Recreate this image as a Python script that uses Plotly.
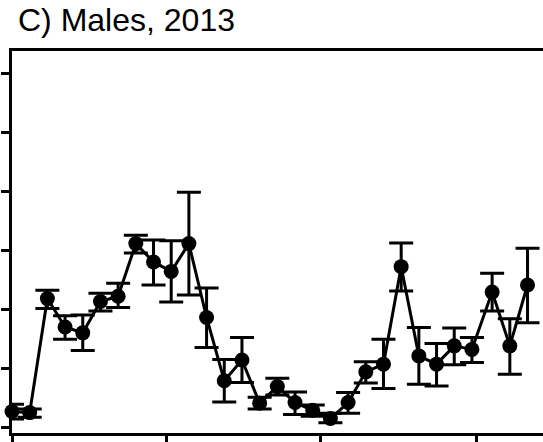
import plotly.graph_objects as go

# Weekly sampling dates (2013)
dates = ["2013-03-01", "2013-03-08", "2013-03-15", "2013-03-22", "2013-03-29",
         "2013-04-05", "2013-04-12", "2013-04-19", "2013-04-26", "2013-05-03",
         "2013-05-10", "2013-05-17", "2013-05-24", "2013-05-31", "2013-06-07",
         "2013-06-14", "2013-06-21", "2013-06-28", "2013-07-05", "2013-07-12",
         "2013-07-19", "2013-07-26", "2013-08-02", "2013-08-09", "2013-08-16",
         "2013-08-23", "2013-08-30", "2013-09-07", "2013-09-14", "2013-09-21"]

values = [2.8, 2.6, 21.9, 17.1, 16.1, 21.4, 22.3, 31.2, 28.1, 26.5,
          31.2, 18.7, 8.0, 11.5, 4.2, 7.0, 4.3, 3.0, 1.6, 4.3,
          9.5, 10.8, 27.3, 12.2, 10.8, 13.9, 13.3, 23.0, 13.9, 24.2]

upper = [4.0, 3.2, 23.3, 19.0, 19.1, 22.8, 24.5, 32.6, 31.8, 31.7,
         39.9, 23.7, 11.6, 15.3, 5.2, 8.4, 6.1, 3.9, 2.5, 6.0,
         11.2, 15.0, 31.3, 17.0, 14.3, 16.9, 15.3, 26.2, 18.5, 30.4]

lower = [1.5, 1.8, 20.2, 15.0, 13.1, 19.8, 20.4, 29.6, 24.2, 21.3,
         22.5, 13.6, 4.4, 7.7, 3.2, 5.6, 2.3, 2.0, 0.9, 2.5,
         7.6, 6.7, 23.2, 7.4, 7.1, 10.7, 11.1, 19.8, 9.1, 17.8]

y_ticks = [0, 10, 20, 30, 40, 50, 60]
x_ticks = ["2013-03-01", "2013-05-01", "2013-07-01", "2013-09-01"]

err_plus = [u - v for u, v in zip(upper, values)]
err_minus = [v - l for v, l in zip(values, lower)]

fig = go.Figure()
fig.add_trace(go.Scatter(
    x=dates, y=values, mode="lines+markers",
    line=dict(color="black", width=3),
    marker=dict(color="black", size=15, symbol="circle"),
    error_y=dict(type="data", symmetric=False, array=err_plus,
                 arrayminus=err_minus, color="black", thickness=3, width=12),
    showlegend=False,
    cliponaxis=False,
))

fig.update_layout(
    width=543, height=442,
    margin=dict(l=12, r=0, t=51, b=9),
    paper_bgcolor="white", plot_bgcolor="white",
    title=dict(text="C) Males, 2013", xref="container", yref="container",
               x=18 / 543, xanchor="left", y=1 - 9 / 442, yanchor="top",
               font=dict(family="Liberation Sans, Arial, sans-serif",
                         size=32, color="black")),
    xaxis=dict(type="date", range=["2013-03-01", "2013-09-27 03:00"],
               tickvals=x_ticks, showticklabels=False, ticks="outside",
               ticklen=10, tickwidth=2.5, tickcolor="black",
               showline=True, linecolor="black", linewidth=3, mirror=True,
               showgrid=False, zeroline=False),
    yaxis=dict(range=[-0.85, 63.8], tickvals=y_ticks, showticklabels=False,
               ticks="outside", ticklen=8, tickwidth=2.5, tickcolor="black",
               showline=True, linecolor="black", linewidth=3, mirror=False,
               showgrid=False, zeroline=False),
)

fig.write_html("out.html")
